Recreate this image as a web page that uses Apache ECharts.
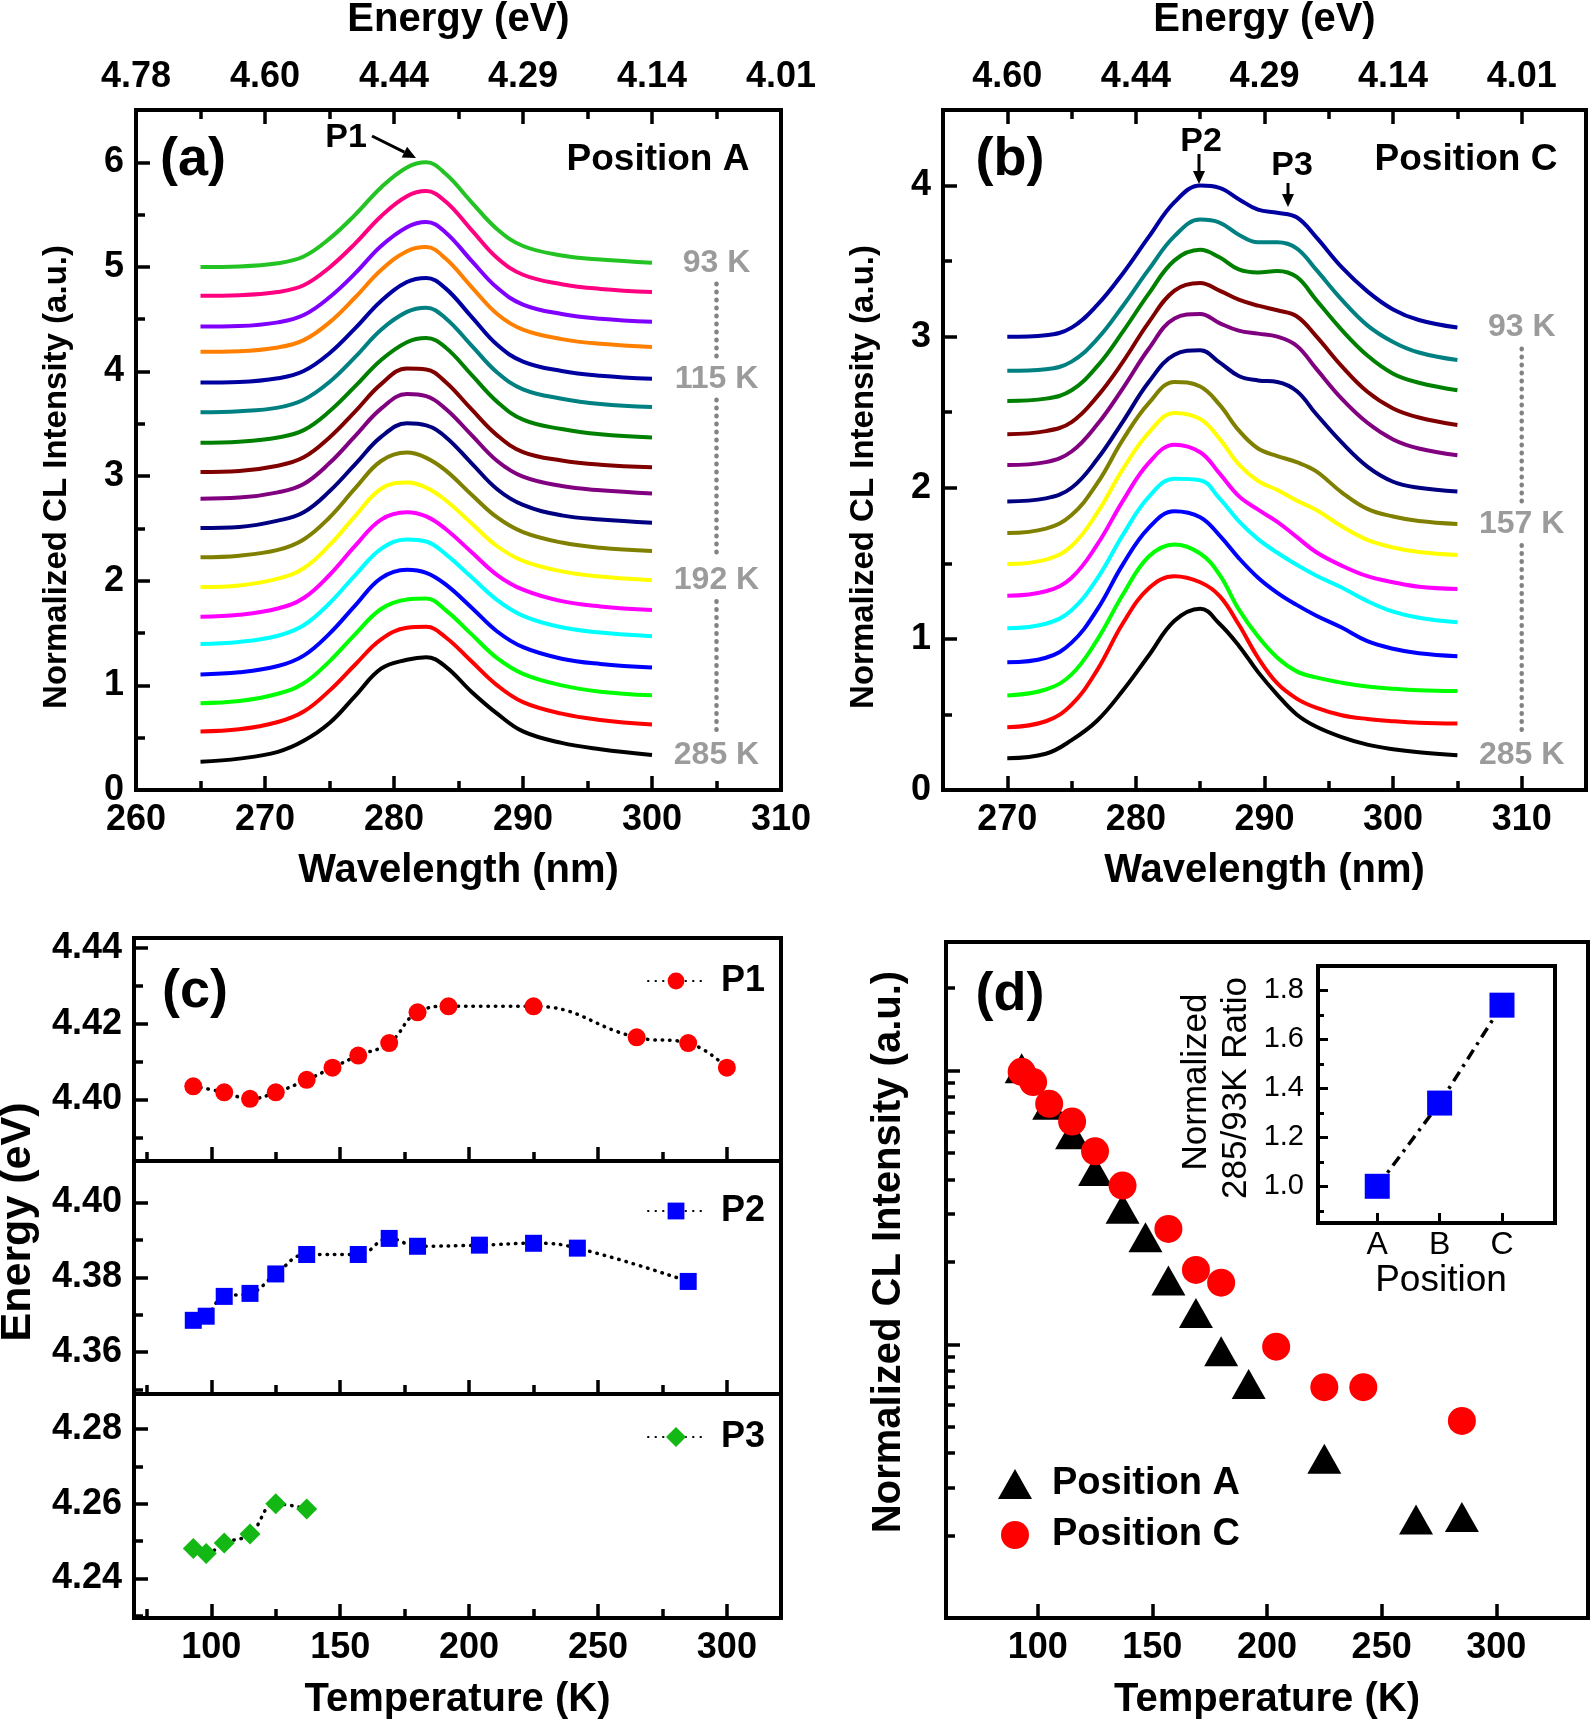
<!DOCTYPE html>
<html>
<head>
<meta charset="utf-8">
<script src="https://cdn.jsdelivr.net/npm/echarts@6/dist/echarts.min.js"></script>
<style>
html, body { margin: 0; padding: 0; background: #fff; }
#chart { width: 1594px; height: 1726px; }
</style>
</head>
<body>
<div id="chart"></div>
<script>
var FONT = '"Liberation Sans", Arial, Helvetica, sans-serif';
var GRAY = '#828282';

// ---- (a) Position A: normalized CL spectra, stacked ----
var wlA = [265, 268, 271, 273, 275, 277, 279, 281, 282.5, 284, 286, 288, 290, 293, 296, 300];
var offsetA = [5.00, 4.725, 4.43, 4.19, 3.895, 3.61, 3.32, 3.04, 2.785, 2.505, 2.225, 1.94, 1.655, 1.395, 1.105, 0.83, 0.56, 0.27];
var specA = [
  [0, 0.005, 0.035, 0.10, 0.27, 0.50, 0.76, 0.95, 1.00, 0.89, 0.62, 0.36, 0.20, 0.11, 0.07, 0.04],
  [0, 0.005, 0.035, 0.10, 0.27, 0.50, 0.76, 0.95, 1.00, 0.90, 0.63, 0.36, 0.20, 0.11, 0.065, 0.035],
  [0, 0.005, 0.04, 0.11, 0.28, 0.51, 0.77, 0.95, 1.00, 0.90, 0.63, 0.37, 0.21, 0.12, 0.075, 0.045],
  [0, 0.005, 0.04, 0.11, 0.28, 0.52, 0.78, 0.96, 1.00, 0.89, 0.62, 0.36, 0.21, 0.12, 0.075, 0.045],
  [0, 0.005, 0.04, 0.11, 0.28, 0.52, 0.78, 0.96, 1.00, 0.90, 0.63, 0.36, 0.20, 0.11, 0.065, 0.035],
  [0, 0.01, 0.045, 0.12, 0.29, 0.53, 0.79, 0.96, 1.00, 0.90, 0.64, 0.38, 0.22, 0.13, 0.08, 0.05],
  [0, 0.01, 0.05, 0.12, 0.30, 0.54, 0.79, 0.96, 1.00, 0.91, 0.65, 0.39, 0.22, 0.13, 0.08, 0.05],
  [0, 0.01, 0.06, 0.14, 0.33, 0.58, 0.84, 0.99, 0.98, 0.86, 0.60, 0.35, 0.19, 0.11, 0.07, 0.045],
  [0, 0.01, 0.06, 0.14, 0.34, 0.60, 0.86, 1.00, 0.98, 0.86, 0.61, 0.36, 0.21, 0.12, 0.08, 0.05],
  [0, 0.01, 0.07, 0.15, 0.35, 0.61, 0.87, 1.00, 0.98, 0.87, 0.62, 0.37, 0.22, 0.12, 0.08, 0.05],
  [0, 0.015, 0.07, 0.17, 0.38, 0.66, 0.92, 1.00, 0.95, 0.83, 0.60, 0.38, 0.24, 0.14, 0.09, 0.06],
  [0, 0.015, 0.08, 0.18, 0.40, 0.68, 0.94, 1.00, 0.95, 0.83, 0.61, 0.39, 0.25, 0.15, 0.10, 0.065],
  [0, 0.02, 0.08, 0.18, 0.40, 0.68, 0.93, 1.00, 0.96, 0.84, 0.62, 0.40, 0.26, 0.15, 0.10, 0.065],
  [0, 0.02, 0.08, 0.18, 0.39, 0.66, 0.91, 1.00, 0.98, 0.86, 0.64, 0.42, 0.27, 0.16, 0.11, 0.075],
  [0, 0.02, 0.08, 0.18, 0.39, 0.66, 0.92, 1.00, 0.97, 0.86, 0.64, 0.41, 0.26, 0.15, 0.10, 0.065],
  [0, 0.02, 0.09, 0.19, 0.40, 0.66, 0.90, 0.99, 1.00, 0.89, 0.66, 0.43, 0.28, 0.17, 0.11, 0.075],
  [0, 0.02, 0.09, 0.19, 0.39, 0.64, 0.88, 0.99, 1.00, 0.90, 0.67, 0.44, 0.28, 0.17, 0.11, 0.065],
  [0, 0.03, 0.095, 0.20, 0.37, 0.63, 0.89, 0.975, 1.00, 0.91, 0.67, 0.46, 0.29, 0.18, 0.12, 0.065]
];
var colorsA = ['#22c322', '#ff0080', '#8000ff', '#ff8000', '#0000a0', '#008080', '#008000', '#800000', '#800080',
  '#000080', '#808000', '#ffff00', '#ff00ff', '#00ffff', '#0000ff', '#00ff00', '#ff0000', '#000000'];
var tempLabelsA = ['93 K', '115 K', '192 K', '285 K'];
var tempCurveA = [0, 4, 11, 17];
var wlTicksA = [260, 270, 280, 290, 300, 310];
var wlMinorA = [265, 275, 285, 295, 305];
var eTicksA = ['4.78', '4.60', '4.44', '4.29', '4.14', '4.01'];
var yTicksA = [0, 1, 2, 3, 4, 5, 6];
var yMinorA = [0.5, 1.5, 2.5, 3.5, 4.5, 5.5];

// ---- (b) Position C ----
var wlB = [270, 273, 275, 277, 279, 281, 283, 285, 286.5, 288, 289.5, 291, 292.5, 294, 296, 298, 300, 302, 305];
var offsetB = [3.00, 2.775, 2.575, 2.355, 2.15, 1.91, 1.70, 1.495, 1.285, 1.07, 0.845, 0.625, 0.415, 0.21];
var specB = [
  [0, 0.01, 0.06, 0.21, 0.42, 0.66, 0.89, 1.00, 0.985, 0.91, 0.84, 0.82, 0.79, 0.66, 0.46, 0.30, 0.18, 0.11, 0.06],
  [0, 0.01, 0.06, 0.21, 0.43, 0.67, 0.89, 1.00, 0.98, 0.90, 0.85, 0.85, 0.81, 0.67, 0.47, 0.30, 0.19, 0.12, 0.07],
  [0, 0.015, 0.07, 0.23, 0.46, 0.71, 0.93, 1.00, 0.95, 0.87, 0.85, 0.86, 0.82, 0.67, 0.47, 0.30, 0.18, 0.12, 0.07],
  [0, 0.02, 0.08, 0.25, 0.48, 0.74, 0.95, 1.00, 0.95, 0.89, 0.85, 0.82, 0.78, 0.65, 0.45, 0.28, 0.17, 0.11, 0.06],
  [0, 0.02, 0.09, 0.27, 0.51, 0.77, 0.97, 1.00, 0.94, 0.89, 0.87, 0.85, 0.79, 0.64, 0.44, 0.28, 0.17, 0.11, 0.065],
  [0, 0.02, 0.09, 0.28, 0.53, 0.79, 0.97, 1.00, 0.92, 0.83, 0.80, 0.79, 0.73, 0.58, 0.39, 0.23, 0.13, 0.09, 0.065],
  [0, 0.03, 0.12, 0.33, 0.62, 0.86, 1.00, 0.97, 0.85, 0.68, 0.56, 0.51, 0.47, 0.41, 0.27, 0.16, 0.11, 0.08, 0.06],
  [0, 0.03, 0.12, 0.34, 0.63, 0.87, 1.00, 0.96, 0.83, 0.66, 0.55, 0.49, 0.42, 0.36, 0.25, 0.16, 0.11, 0.08, 0.06],
  [0, 0.03, 0.12, 0.34, 0.63, 0.88, 1.00, 0.95, 0.81, 0.66, 0.57, 0.49, 0.39, 0.29, 0.20, 0.13, 0.09, 0.06, 0.045],
  [0, 0.03, 0.12, 0.33, 0.62, 0.87, 0.99, 0.98, 0.86, 0.71, 0.59, 0.50, 0.42, 0.35, 0.27, 0.18, 0.11, 0.07, 0.04],
  [0, 0.03, 0.13, 0.35, 0.65, 0.89, 1.00, 0.96, 0.84, 0.69, 0.56, 0.46, 0.38, 0.31, 0.23, 0.14, 0.09, 0.06, 0.04],
  [0, 0.04, 0.14, 0.37, 0.67, 0.92, 1.00, 0.94, 0.80, 0.57, 0.39, 0.25, 0.16, 0.12, 0.085, 0.06, 0.045, 0.035, 0.03],
  [0, 0.04, 0.15, 0.38, 0.69, 0.92, 1.00, 0.96, 0.87, 0.68, 0.46, 0.29, 0.19, 0.13, 0.08, 0.055, 0.04, 0.03, 0.025],
  [0, 0.03, 0.12, 0.25, 0.45, 0.68, 0.91, 0.99, 0.89, 0.745, 0.57, 0.42, 0.29, 0.21, 0.14, 0.09, 0.06, 0.04, 0.02]
];
var colorsB = ['#0000a0', '#008080', '#008000', '#800000', '#800080', '#000080', '#808000', '#ffff00', '#ff00ff',
  '#00ffff', '#0000ff', '#00ff00', '#ff0000', '#000000'];
var tempLabelsB = ['93 K', '157 K', '285 K'];
var tempCurveB = [0, 6, 13];
var wlTicksB = [270, 280, 290, 300, 310];
var wlMinorB = [275, 285, 295, 305];
var eTicksB = ['4.60', '4.44', '4.29', '4.14', '4.01'];
var yTicksB = [0, 1, 2, 3, 4];
var yMinorB = [0.5, 1.5, 2.5, 3.5];

// ---- (c) peak energies vs temperature ----
var tP1 = [93, 105, 115, 125, 137, 147, 157, 169, 180, 192, 225, 265, 285, 300];
var eP1 = [4.4035, 4.4019, 4.4002, 4.4019, 4.4052, 4.4084, 4.4116, 4.4149, 4.4230, 4.4246, 4.4246, 4.4164, 4.4149, 4.4084];
var tP2 = [93, 98, 105, 115, 125, 137, 157, 169, 180, 204, 225, 242, 285];
var eP2 = [4.3685, 4.3696, 4.3749, 4.3757, 4.3809, 4.3861, 4.3861, 4.3904, 4.3883, 4.3886, 4.3891, 4.3878, 4.3789];
var tP3 = [93, 98, 105, 115, 125, 137];
var eP3 = [4.2480, 4.2467, 4.2495, 4.2519, 4.2600, 4.2586];
var tempTicks = [100, 150, 200, 250, 300];
var tempMinor = [75, 125, 175, 225, 275];
var cTicks = [[4.40, 4.42, 4.44], [4.36, 4.38, 4.40], [4.24, 4.26, 4.28]];
var cMinor = [[4.39, 4.41, 4.43], [4.35, 4.37, 4.39], [4.23, 4.25, 4.27]];
var cRange = [[4.3838, 4.4426], [4.3488, 4.4111], [4.2294, 4.2894]];

// ---- (d) integrated intensity vs temperature (log) ----
var tA = [93, 105, 115, 125, 137, 147, 157, 169, 180, 192, 225, 265, 285];
var iA = [1.02, 0.75, 0.585, 0.43, 0.313, 0.246, 0.171, 0.130, 0.0944, 0.0716, 0.0382, 0.0229, 0.0234];
var tC = [93, 98, 105, 115, 125, 137, 157, 169, 180, 204, 225, 242, 285];
var iC = [0.99, 0.908, 0.756, 0.651, 0.507, 0.380, 0.264, 0.187, 0.168, 0.098, 0.0697, 0.0697, 0.0525];
var logMajor = [0.1, 1];
var logMinor = [0.02, 0.03, 0.04, 0.05, 0.06, 0.07, 0.08, 0.09, 0.2, 0.3, 0.4, 0.5, 0.6, 0.7, 0.8, 0.9, 2];

// inset
var positions = ['A', 'B', 'C'];
var ratio = [1.00, 1.34, 1.74];
var ratioTicks = [1.0, 1.2, 1.4, 1.6, 1.8];
var ratioMinor = [0.9, 1.1, 1.3, 1.5, 1.7];

// ---------------------------------------------------------------
function baseAxis(o) {
  return echarts.util.merge({
    type: 'value',
    axisLine: { show: false, onZero: false },
    axisTick: { show: true, inside: true, length: 14, lineStyle: { color: '#000', width: 3.5 } },
    axisLabel: { show: true, color: '#000', fontSize: 36, fontWeight: 'bold', fontFamily: FONT, margin: 12 },
    splitLine: { show: false },
    nameTextStyle: { color: '#000', fontSize: 40, fontWeight: 'bold', fontFamily: FONT }
  }, o, true);
}
// major axis (ticks + optional labels) and an overlay axis with the short minor ticks
function axisPair(common, ticks, fmt, minor, extra) {
  var major = baseAxis(common);
  major.axisTick.customValues = ticks;
  if (fmt === null) {
    major.axisLabel.show = false;
  } else {
    major.axisLabel.customValues = ticks;
    if (fmt) major.axisLabel.formatter = fmt;
  }
  if (extra) major = echarts.util.merge(major, extra, true);
  var out = [major];
  if (minor) {
    var m = baseAxis(common);
    m.axisTick.customValues = minor;
    m.axisTick.length = 9;
    m.axisLabel.show = false;
    out.push(m);
  }
  return out;
}
function frame(left, top, width, height, bg) {
  return { left: left, top: top, width: width, height: height, show: true, borderColor: '#000', borderWidth: 4,
    backgroundColor: bg || 'transparent', containLabel: false, outerBoundsMode: 'none' };
}
function fix2(v) { return v.toFixed(2); }

var grids = [
  frame(136, 110, 645, 680),
  frame(943, 110, 643, 680),
  frame(134, 938, 647, 223),
  frame(134, 1161, 647, 233),
  frame(134, 1394, 647, 224),
  frame(946, 942, 642, 676),
  frame(1318, 966, 237, 257, '#fff')
];

var xAxes = [];
var yAxes = [];
// (a) x: 0 bottom, 1 bottom minor, 2 top, 3 top minor
xAxes = xAxes.concat(axisPair({ gridIndex: 0, position: 'bottom', min: 260, max: 310 }, wlTicksA, undefined, wlMinorA,
  { name: 'Wavelength (nm)', nameLocation: 'middle', nameGap: 61 }));
xAxes = xAxes.concat(axisPair({ gridIndex: 0, position: 'top', min: 260, max: 310 }, wlTicksA,
  function (v) { return eTicksA[wlTicksA.indexOf(v)]; }, wlMinorA,
  { name: 'Energy (eV)', nameLocation: 'middle', nameGap: 70, axisLabel: { margin: 15 } }));
// (b) x: 4,5 bottom ; 6,7 top
xAxes = xAxes.concat(axisPair({ gridIndex: 1, position: 'bottom', min: 265, max: 315 }, wlTicksB, undefined, wlMinorB,
  { name: 'Wavelength (nm)', nameLocation: 'middle', nameGap: 61 }));
xAxes = xAxes.concat(axisPair({ gridIndex: 1, position: 'top', min: 265, max: 315 }, wlTicksB,
  function (v) { return eTicksB[wlTicksB.indexOf(v)]; }, wlMinorB,
  { name: 'Energy (eV)', nameLocation: 'middle', nameGap: 70, axisLabel: { margin: 15 } }));
// (c) x: 8,9 / 10,11 / 12,13
xAxes = xAxes.concat(axisPair({ gridIndex: 2, position: 'bottom', min: 70, max: 321 }, tempTicks, null, tempMinor));
xAxes = xAxes.concat(axisPair({ gridIndex: 3, position: 'bottom', min: 70, max: 321 }, tempTicks, null, tempMinor));
xAxes = xAxes.concat(axisPair({ gridIndex: 4, position: 'bottom', min: 70, max: 321 }, tempTicks, undefined, tempMinor,
  { name: 'Temperature (K)', nameLocation: 'middle', nameGap: 62 }));
// (d) x: 14
xAxes = xAxes.concat(axisPair({ gridIndex: 5, position: 'bottom', min: 60, max: 340 }, tempTicks, undefined, null,
  { name: 'Temperature (K)', nameLocation: 'middle', nameGap: 62 }));
// inset x: 15
xAxes = xAxes.concat(axisPair({ gridIndex: 6, position: 'bottom', min: 0.05, max: 3.85 }, [1, 2, 3],
  function (v) { return positions[Math.round(v) - 1]; }, null,
  { axisTick: { length: 10, lineStyle: { width: 3 } }, axisLabel: { fontSize: 32, fontWeight: 'normal', margin: 6 } }));

// y axes (all on the left)
yAxes = yAxes.concat(axisPair({ gridIndex: 0, position: 'left', min: 0, max: 6.5 }, yTicksA, undefined, yMinorA));      // 0,1
yAxes = yAxes.concat(axisPair({ gridIndex: 1, position: 'left', min: 0, max: 4.5 }, yTicksB, undefined, yMinorB));      // 2,3
for (var c = 0; c < 3; c++) {                                                                                          // 4..9
  yAxes = yAxes.concat(axisPair({ gridIndex: 2 + c, position: 'left', min: cRange[c][0], max: cRange[c][1] }, cTicks[c], fix2, cMinor[c]));
}
// (d): log axis carrying the data and the short ticks, plus a second log axis for the long decade ticks
var logCommon = { type: 'log', logBase: 10, gridIndex: 5, position: 'left', min: 0.01, max: 2.95 };
yAxes = yAxes.concat(axisPair(logCommon, logMinor, null, null, { axisTick: { length: 9 } }));                       // 10
yAxes = yAxes.concat(axisPair(logCommon, logMajor, null, null));                                                     // 11
yAxes = yAxes.concat(axisPair({ gridIndex: 6, position: 'left', min: 0.85, max: 1.9 }, ratioTicks,                  // 12,13
  function (v) { return v.toFixed(1); }, ratioMinor,
  { axisTick: { length: 10, lineStyle: { width: 3 } }, axisLabel: { fontSize: 29, fontWeight: 'normal', margin: 14 } }));
yAxes[13].axisTick.length = 6;
yAxes[13].axisTick.lineStyle.width = 3;

// ---------------------------------------------------------------
var series = [];
function stack(wl, offs, spec, colors, xi, yi) {
  spec.forEach(function (s, k) {
    series.push({
      type: 'line', xAxisIndex: xi, yAxisIndex: yi, smooth: 0.4, symbol: 'none', silent: true,
      data: wl.map(function (w, i) { return [w, +(offs[k] + s[i]).toFixed(4)]; }),
      lineStyle: { color: colors[k], width: 4 }, z: 3
    });
  });
}
function tempMarks(wl, offs, spec, curves, labels, xi, yi, gap) {
  var xPos = wl[wl.length - 1] + 5;
  var ends = curves.map(function (k) { return offs[k] + spec[k][spec[k].length - 1]; });
  series.push({
    type: 'scatter', xAxisIndex: xi, yAxisIndex: yi, symbolSize: 1, silent: true,
    itemStyle: { color: 'rgba(0,0,0,0)' },
    data: ends.map(function (y, j) { return { value: [xPos, y], name: labels[j] }; }),
    label: { show: true, position: 'inside', formatter: '{b}', color: GRAY, fontSize: 32, fontWeight: 'bold', fontFamily: FONT },
    z: 4
  });
  for (var j = 0; j < ends.length - 1; j++) {
    series.push({
      type: 'line', xAxisIndex: xi, yAxisIndex: yi, symbol: 'none', silent: true,
      data: [[xPos, ends[j] - gap], [xPos, ends[j + 1] + gap]],
      lineStyle: { color: GRAY, width: 4.5, type: [0.5, 7.5], cap: 'round' }, z: 4
    });
  }
}
stack(wlA, offsetA, specA, colorsA, 0, 0);
tempMarks(wlA, offsetA, specA, tempCurveA, tempLabelsA, 0, 0, 0.2);
stack(wlB, offsetB, specB, colorsB, 4, 2);
tempMarks(wlB, offsetB, specB, tempCurveB, tempLabelsB, 4, 2, 0.14);

var dotted = { color: '#000', width: 3.5, type: [0.5, 7], cap: 'round' };
[
  { name: 'P1', t: tP1, e: eP1, symbol: 'circle', size: 18, color: '#ff0000', xi: 8, yi: 4 },
  { name: 'P2', t: tP2, e: eP2, symbol: 'rect', size: 17, color: '#0000ff', xi: 10, yi: 6 },
  { name: 'P3', t: tP3, e: eP3, symbol: 'diamond', size: 21, color: '#14b814', xi: 12, yi: 8 }
].forEach(function (p) {
  series.push({
    type: 'line', name: p.name, xAxisIndex: p.xi, yAxisIndex: p.yi, smooth: 0.45,
    symbol: p.symbol, symbolSize: p.size, showSymbol: true,
    itemStyle: { color: p.color, opacity: 1 }, lineStyle: dotted,
    data: p.t.map(function (t, i) { return [t, p.e[i]]; }), z: 3
  });
});

series.push({
  type: 'scatter', name: 'Position A', xAxisIndex: 14, yAxisIndex: 10, symbol: 'triangle', symbolSize: [34, 30],
  itemStyle: { color: '#000', opacity: 1 }, data: tA.map(function (t, i) { return [t, iA[i]]; }), z: 3
});
series.push({
  type: 'scatter', name: 'Position C', xAxisIndex: 14, yAxisIndex: 10, symbol: 'circle', symbolSize: 28,
  itemStyle: { color: '#ff0000', opacity: 1 }, data: tC.map(function (t, i) { return [t, iC[i]]; }), z: 4
});
series.push({
  type: 'line', xAxisIndex: 15, yAxisIndex: 12, symbol: 'rect', symbolSize: 25,
  itemStyle: { color: '#0000ff', opacity: 1 }, lineStyle: { color: '#000', width: 3.5, type: [11, 6, 3, 6] },
  data: positions.map(function (p, i) { return [i + 1, ratio[i]]; }), z: 5
});

// ---------------------------------------------------------------
function legendAt(name, left, top, w, h, size, pad) {
  return {
    data: [name], left: left, top: top, itemWidth: w, itemHeight: h, padding: 0, itemGap: 0, selectedMode: false,
    itemStyle: { opacity: 1 },
    textStyle: { color: '#000', fontSize: size, fontWeight: 'bold', fontFamily: FONT, padding: [0, 0, 0, pad] }
  };
}
var legends = [
  legendAt('P1', 647, 963, 56, 21, 36, 12),
  legendAt('P2', 647, 1193, 56, 21, 36, 12),
  legendAt('P3', 647, 1419, 56, 25, 36, 12),
  legendAt('Position A', 998, 1465, 34, 30, 38, 15),
  legendAt('Position C', 1001, 1516, 28, 28, 38, 18)
];

function gText(txt, x, y, size, weight, rot) {
  return {
    type: 'text', x: x, y: y, rotation: rot || 0, z: 100, silent: true,
    style: { text: txt, fontSize: size, fontWeight: weight, fontFamily: FONT, fill: '#000',
      align: 'center', verticalAlign: 'middle', textAlign: 'center', textVerticalAlign: 'middle' }
  };
}
function arrow(x1, y1, x2, y2) {
  var dx = x2 - x1, dy = y2 - y1, L = Math.sqrt(dx * dx + dy * dy);
  var ux = dx / L, uy = dy / L, hl = 13, hw = 6;
  var bx = x2 - ux * hl, by = y2 - uy * hl;
  return [
    { type: 'line', z: 100, silent: true, shape: { x1: x1, y1: y1, x2: bx, y2: by }, style: { stroke: '#000', lineWidth: 3 } },
    { type: 'polygon', z: 100, silent: true,
      shape: { points: [[x2, y2], [bx - uy * hw, by + ux * hw], [bx + uy * hw, by - ux * hw]] }, style: { fill: '#000' } }
  ];
}
var R = Math.PI / 2;
var graphic = [
  gText('(a)', 193, 160, 54, 'bold'),
  gText('(b)', 1010, 160, 54, 'bold'),
  gText('(c)', 195, 992, 54, 'bold'),
  gText('(d)', 1010, 995, 54, 'bold'),
  gText('Position A', 658, 160, 37, 'bold'),
  gText('Position C', 1466, 160, 37, 'bold'),
  gText('P1', 346, 138, 34, 'bold'),
  gText('P2', 1201, 142, 34, 'bold'),
  gText('P3', 1292, 166, 34, 'bold'),
  gText('Normalized CL Intensity (a.u.)', 57, 477, 33, 'bold', R),
  gText('Normalized CL Intensity (a.u.)', 864, 477, 33, 'bold', R),
  gText('Energy (eV)', 18, 1222, 43, 'bold', R),
  gText('Normalized CL Intensity (a.u.)', 889, 1252, 40, 'bold', R),
  gText('Normalized', 1196, 1082, 35, 'normal', R),
  gText('285/93K Ratio', 1236, 1088, 35, 'normal', R),
  gText('Position', 1441, 1281, 37, 'normal')
].concat(arrow(372, 136, 416, 158), arrow(1199, 154, 1199, 184), arrow(1288, 183, 1288, 207));

var option = {
  animation: false,
  backgroundColor: '#fff',
  textStyle: { fontFamily: FONT },
  grid: grids,
  xAxis: xAxes,
  yAxis: yAxes,
  legend: legends,
  series: series,
  graphic: graphic
};

echarts.init(document.getElementById('chart'), null, { renderer: 'canvas' }).setOption(option);
</script>
</body>
</html>
